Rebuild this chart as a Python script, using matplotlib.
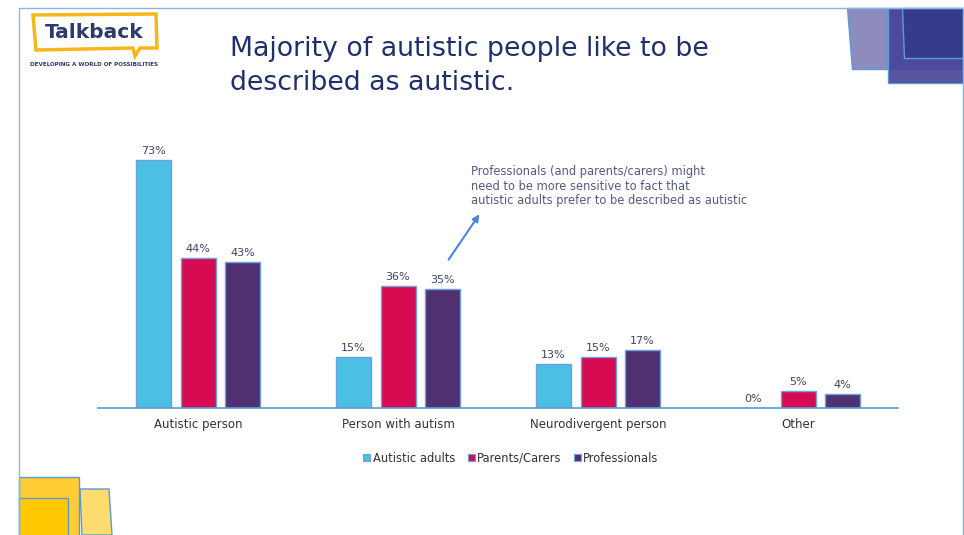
import matplotlib
matplotlib.use("Agg")
import matplotlib.pyplot as plt
from matplotlib.patches import Polygon, Rectangle, Patch
import numpy as np

categories = ["Autistic person", "Person with autism", "Neurodivergent person", "Other"]
series_names = ["Autistic adults", "Parents/Carers", "Professionals"]
autistic_adults = [73, 15, 13, 0]
parents_carers = [44, 36, 15, 5]
professionals = [43, 35, 17, 4]
series_values = [autistic_adults, parents_carers, professionals]
colors = ["#4BBFE4", "#D60B52", "#523173"]

title = "Majority of autistic people like to be\ndescribed as autistic."
note = ("Professionals (and parents/carers) might\n"
        "need to be more sensitive to fact that\n"
        "autistic adults prefer to be described as autistic")

FONT = "DejaVu Sans"
plt.rcParams['font.family'] = [FONT]

fig = plt.figure(figsize=(9.64, 5.35), dpi=100)

# overlay for slide decorations (pixel coordinates)
bg = fig.add_axes([0, 0, 1, 1], zorder=0)
bg.set_xlim(0, 964)
bg.set_ylim(535, 0)
bg.axis("off")

edge = "#5B9BD5"
# slide frame
bg.plot([19, 19, 963, 963], [535, 8, 8, 535], color="#8DB4E2", lw=1.0)

# top-right decoration
bg.add_patch(Polygon([(847, 8), (887, 8), (887, 69), (852, 69)], closed=True,
                     facecolor="#8E8CBF", edgecolor=edge, lw=1))
bg.add_patch(Rectangle((888, 8), 75, 75, facecolor="#4B4A9C", edgecolor=edge, lw=1))
bg.add_patch(Rectangle((888.5, 70), 74, 12.5, facecolor="#5856A3", edgecolor="none"))
bg.add_patch(Polygon([(902, 8), (963, 8), (963, 58), (904, 58)], closed=True,
                     facecolor="#363C8A", edgecolor=edge, lw=1))

# bottom-left decoration
bg.add_patch(Polygon([(80, 489), (109, 489), (112, 535), (82, 535)], closed=True,
                     facecolor="#FFDC6E", edgecolor=edge, lw=1))
bg.add_patch(Rectangle((19, 477), 60, 60, facecolor="#FFCD33", edgecolor=edge, lw=1))
bg.add_patch(Rectangle((19, 498), 49, 40, facecolor="#FFC800", edgecolor=edge, lw=1))

# logo
bg.add_patch(Polygon([(33, 15), (156, 14), (157, 48), (140, 48), (135, 56), (133, 48), (36, 50)],
                     closed=True, facecolor="white", edgecolor="#F7B718", lw=2.5))
bg.text(94, 32, "Talkback", fontsize=14.5, fontweight="bold", color="#2E3A6E",
        ha="center", va="center", family="DejaVu Sans")
bg.text(94, 65, "DEVELOPING A WORLD OF POSSIBILITIES", fontsize=4.1, fontweight="bold",
        color="#2E3A6E", ha="center", va="center", family="DejaVu Sans")

# title
bg.text(230, 66, title, fontsize=19.3, color="#1F2F6B", ha="left", va="center",
        linespacing=1.36)

# annotation
bg.text(471, 186, note, fontsize=8.3, color="#555A80", ha="left", va="center",
        linespacing=1.15)
bg.annotate("", xy=(481, 212), xytext=(447, 262),
            arrowprops=dict(arrowstyle="-|>", color="#4A86D8", lw=1.5, mutation_scale=10))

# chart
ax = fig.add_axes([98 / 964, 1 - 408 / 535, 800 / 964, 272 / 535], zorder=1)
ax.patch.set_alpha(0)
x = np.arange(len(categories)) + 0.5
width = 0.175
offsets = [-0.2225, 0.0, 0.2225]
for vals, off, col in zip(series_values, offsets, colors):
    ax.bar(x + off, vals, width, color=col, edgecolor="#6FA0DC", linewidth=1)
    for xb, v in zip(x + off, vals):
        ax.text(xb, v + 1.2, f"{v}%", ha="center", va="bottom", fontsize=8,
                color="#3C4466")

ax.set_xlim(0, 4)
ax.set_ylim(0, 80)
ax.set_xticks(x)
ax.set_xticklabels(categories, fontsize=8.5, color="#333333")
ax.tick_params(axis="x", length=0, pad=7)
ax.set_yticks([])
for s in ["top", "right", "left"]:
    ax.spines[s].set_visible(False)
ax.spines["bottom"].set_color("#5B9BD5")
ax.spines["bottom"].set_linewidth(1.2)

handles = [Patch(facecolor=c, edgecolor="#6FA0DC", linewidth=0.8) for c in colors]
fig.legend(handles, series_names, loc="center", bbox_to_anchor=(511 / 964, 1 - 458 / 535),
           ncol=3, frameon=False, fontsize=8.3, handlelength=0.6, handleheight=0.6,
           handletextpad=0.2, columnspacing=1.1, labelcolor="#333333")

fig.savefig("out.png", dpi=100)
